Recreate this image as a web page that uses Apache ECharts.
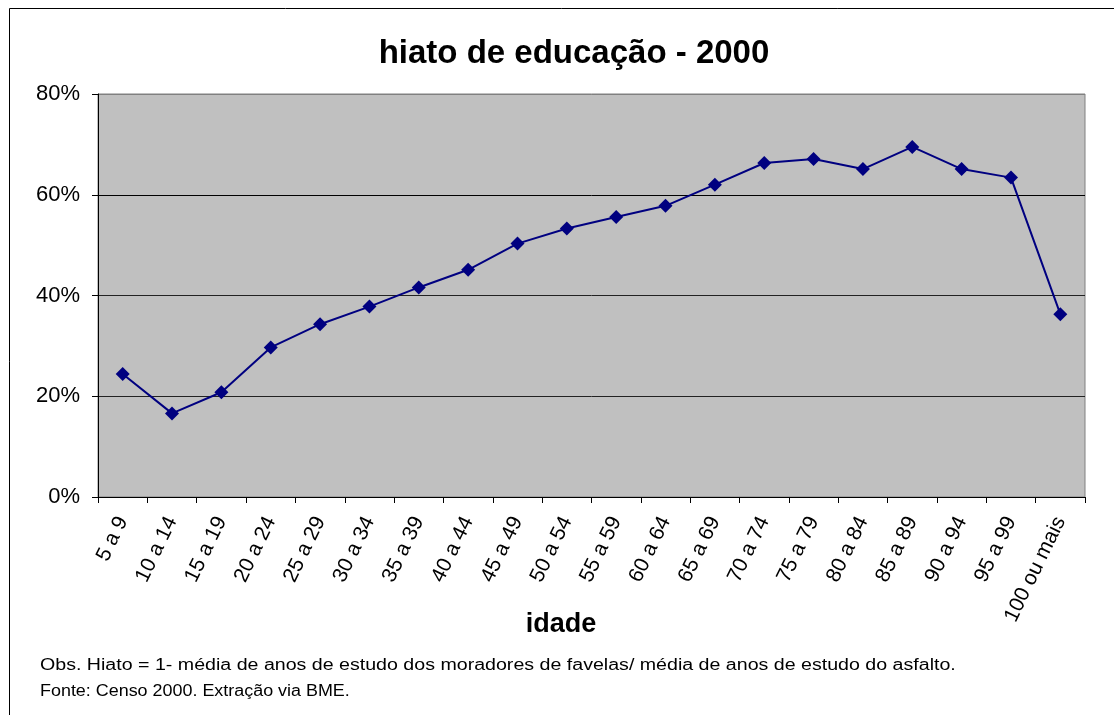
<!DOCTYPE html>
<html>
<head>
	<meta charset="utf-8">
	<title>hiato de educação - 2000</title>
	<style>
		html, body { margin: 0; padding: 0; background: #fff; }
	</style>
</head>

<body>
	<div style="width:1114px;height:715px;" id="chart1"></div>

	<script src="https://cdn.jsdelivr.net/npm/echarts@6/dist/echarts.min.js"></script>
	<script>

	// faixas etárias
	var idades = ['5 a 9', '10 a 14', '15 a 19', '20 a 24', '25 a 29', '30 a 34', '35 a 39',
		'40 a 44', '45 a 49', '50 a 54', '55 a 59', '60 a 64', '65 a 69', '70 a 74',
		'75 a 79', '80 a 84', '85 a 89', '90 a 94', '95 a 99', '100 ou mais'];

	// hiato (%)
	var hiato = [24.4, 16.6, 20.8, 29.7, 34.3, 37.8, 41.6, 45.1, 50.3, 53.3, 55.6,
		57.8, 62.0, 66.3, 67.1, 65.1, 69.5, 65.1, 63.4, 36.3];

	var notas = [
		'Obs. Hiato = 1- média de anos de estudo dos moradores de favelas/ média de anos de estudo do asfalto.',
		'Fonte: Censo 2000. Extração via BME.'
	];

	var fonte = 'Arial, "Liberation Sans", sans-serif';

	var myChart = echarts.init(document.getElementById('chart1'));

	var option = {
		backgroundColor: '#fff',
		animation: false,
		title: {
			text: 'hiato de educação - 2000',
			left: 569,
			textAlign: 'center',
			top: 32,
			textStyle: { fontFamily: fonte, fontSize: 33, fontWeight: 'bold', color: '#000' }
		},
		grid: {
			left: 98, right: 29, top: 94, bottom: 218,
			show: true,
			backgroundColor: '#c0c0c0',
			borderColor: '#808080',
			borderWidth: 1
		},
		xAxis: {
			type: 'category',
			data: idades,
			boundaryGap: true,
			axisLine: { lineStyle: { color: '#000', width: 1 } },
			axisTick: { show: true, alignWithLabel: false, length: 6, lineStyle: { color: '#000' } },
			axisLabel: {
				interval: 0,
				rotate: 64,
				margin: 21,
				fontFamily: fonte,
				fontSize: 21,
				color: '#000'
			},
			splitLine: { show: false }
		},
		yAxis: {
			type: 'value',
			min: 0,
			max: 80,
			interval: 20,
			axisLine: { show: true, lineStyle: { color: '#000' } },
			axisTick: { show: true, length: 6, lineStyle: { color: '#000' } },
			axisLabel: {
				formatter: '{value}%',
				margin: 18,
				fontFamily: fonte,
				fontSize: 22,
				color: '#000'
			},
			splitLine: { show: true, lineStyle: { color: ['#000', '#222', '#222', '#000', '#808080'], width: 1 } }
		},
		series: [{
			name: 'hiato',
			type: 'line',
			data: hiato,
			symbol: 'diamond',
			symbolSize: 14,
			itemStyle: { color: '#000080' },
			lineStyle: { color: '#000080', width: 2 }
		}],
		graphic: [
			{ type: 'line', shape: { x1: 9.5, y1: 8.5, x2: 1114, y2: 8.5 }, style: { stroke: '#000', lineWidth: 1 } },
			{ type: 'line', shape: { x1: 9.5, y1: 8.5, x2: 9.5, y2: 715 }, style: { stroke: '#000', lineWidth: 1 } },
			{ type: 'text', x: 561, y: 611, style: { text: 'idade', font: 'bold 27px ' + fonte, fill: '#000', align: 'center' } },
			{ type: 'text', x: 40, y: 658, scaleX: 1.225, style: { text: notas[0], font: '16px ' + fonte, fill: '#000' } },
			{ type: 'text', x: 40, y: 684, scaleX: 1.12, style: { text: notas[1], font: '16px ' + fonte, fill: '#000' } }
		]
	};

	myChart.setOption(option);

	</script>
</body>

</html>
